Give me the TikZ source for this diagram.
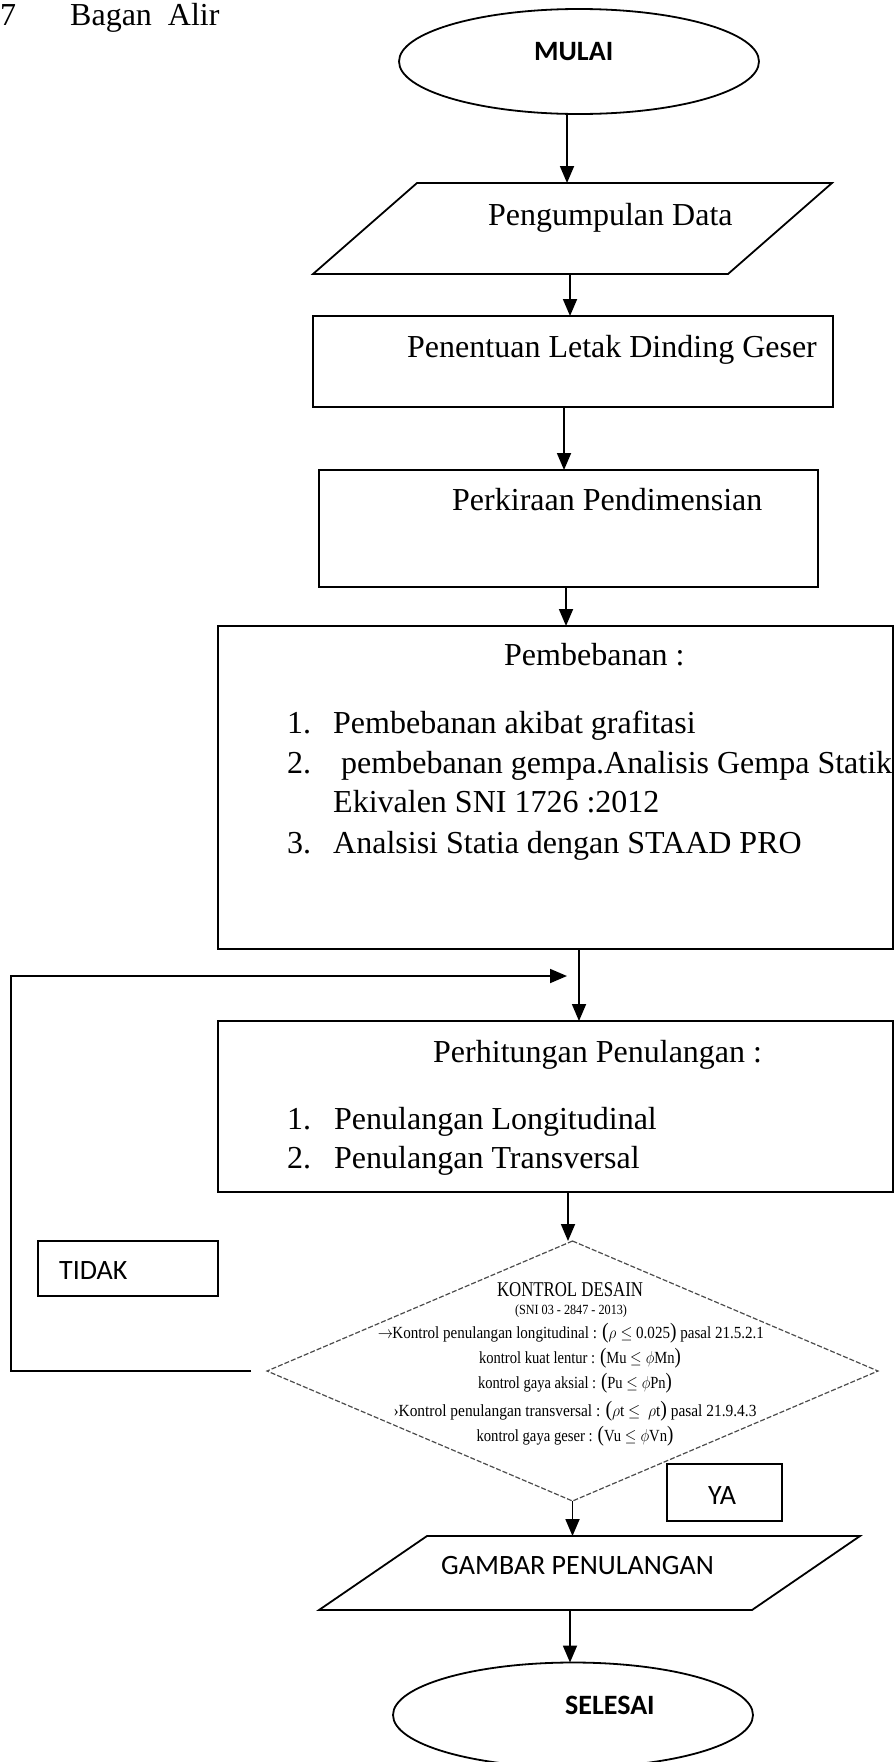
\documentclass[tikz,border=0pt]{standalone}
\usepackage{fontspec}
\usepackage{graphicx}
\setmainfont{Liberation Serif}
\newfontfamily\calfont{Carlito}
\usetikzlibrary{shapes.geometric,arrows.meta,calc}
\newcommand{\bpar}[1]{{\fontsize{22}{22}\selectfont(}#1{\fontsize{22}{22}\selectfont)}}
\newcommand{\fitw}[2]{\resizebox{#1}{\height}{#2}}
\begin{document}
\begin{tikzpicture}[x=1pt,y=-1pt,
  shp/.style={draw,line width=1.8pt,inner sep=0pt,outer sep=0pt},
  ghost/.style={inner sep=0pt,outer sep=0pt},
  ln/.style={line width=1.8pt,line join=miter},
  arr/.style={line width=1.8pt,-{Triangle[length=17pt,width=14pt]}},
  tnr/.style={inner sep=0pt,font=\fontsize{32}{38}\selectfont},
  cal/.style={inner sep=0pt,font=\calfont\fontsize{28}{34}\selectfont},
  calb/.style={inner sep=0pt,font=\calfont\bfseries\fontsize{28}{34}\selectfont},
  dtxt/.style={inner sep=0pt,font=\fontsize{17}{19}\selectfont},
  dline/.style={line width=1.2pt,draw=black!70,dash pattern=on 5pt off 2pt}
]
\useasboundingbox (0,0) rectangle (896,1762);
\fill[white] (0,0) rectangle (896,1762);

% title
\node[tnr,anchor=base west] (num) at (0,25) {7};
\node[tnr,anchor=base west] (title) at (70,25) {Bagan\ \ Alir};

% MULAI
\node[shp,ellipse,minimum width=360pt,minimum height=105pt] (mulai) at (579,61.5) {};
\node[calb,anchor=base west] (mulaiT) at (534,60) {MULAI};

% Pengumpulan Data (parallelogram)
\node[ghost,minimum width=519pt,minimum height=91pt] (pd) at (572.5,228.5) {};
\draw[ln] ([xshift=104pt]pd.north west) -- (pd.north east) -- ([xshift=-104pt]pd.south east) -- (pd.south west) -- cycle;
\node[tnr,anchor=base west] (pdT) at (488,225) {Pengumpulan Data};

% Penentuan
\node[shp,minimum width=520pt,minimum height=91pt] (pl) at (573,361.5) {};
\node[tnr,anchor=base west] (plT) at (407,357) {Penentuan Letak Dinding Geser};

% Perkiraan
\node[shp,minimum width=499pt,minimum height=117pt] (pk) at (568.5,528.5) {};
\node[tnr,anchor=base west] (pkT) at (452,510) {Perkiraan Pendimensian};

% Pembebanan
\node[shp,minimum width=675pt,minimum height=323pt] (pb) at (555.5,787.5) {};
\node[tnr,anchor=base west] (pbT) at (504,665) {Pembebanan :};
\node[tnr,anchor=base west] (pb1n) at (287,733) {1.};
\node[tnr,anchor=base west] (pb1) at (333,733) {Pembebanan akibat grafitasi};
\node[tnr,anchor=base west] (pb2n) at (287,773) {2.};
\node[tnr,anchor=base west] (pb2) at (341,773) {pembebanan gempa.Analisis Gempa Statik};
\node[tnr,anchor=base west] (pb2b) at (333,812) {Ekivalen SNI 1726 :2012};
\node[tnr,anchor=base west] (pb3n) at (287,853) {3.};
\node[tnr,anchor=base west] (pb3) at (333,853) {Analsisi Statia dengan STAAD PRO};

% Perhitungan
\node[shp,minimum width=675pt,minimum height=171pt] (ph) at (555.5,1106.5) {};
\node[tnr,anchor=base west] (phT) at (433,1062) {Perhitungan Penulangan :};
\node[tnr,anchor=base west] (ph1n) at (287,1129) {1.};
\node[tnr,anchor=base west] (ph1) at (334,1129) {Penulangan Longitudinal};
\node[tnr,anchor=base west] (ph2n) at (287,1168) {2.};
\node[tnr,anchor=base west] (ph2) at (334,1168) {Penulangan Transversal};

% TIDAK
\node[shp,minimum width=180pt,minimum height=55pt] (tidak) at (128,1268.5) {};
\node[cal,anchor=base west] (tidakT) at (59,1279) {TIDAK};

% Diamond
\node[ghost,minimum width=611pt,minimum height=260pt] (dk) at (572.5,1371) {};
\draw[dline] (dk.north) -- (dk.east) -- (dk.south) -- (dk.west) -- cycle;
\node[inner sep=0pt,font=\fontsize{21}{23}\selectfont,anchor=base] (d1) at (570,1296) {\fitw{146pt}{KONTROL DESAIN}};
\node[inner sep=0pt,font=\fontsize{14}{16}\selectfont,anchor=base] (d2) at (571,1314) {\fitw{112pt}{(SNI 03 - 2847 - 2013)}};
\node[dtxt,anchor=base] (d3) at (571,1338) {\fitw{386pt}{$\rightarrow$\kern-1pt Kontrol penulangan longitudinal : \bpar{$\rho\leq$ 0.025} pasal 21.5.2.1}};
\node[dtxt,anchor=base] (d4) at (580,1363) {\fitw{202pt}{kontrol kuat lentur : \bpar{Mu $\leq\phi$Mn}}};
\node[dtxt,anchor=base] (d5) at (575,1388) {\fitw{194pt}{kontrol gaya aksial : \bpar{Pu $\leq\phi$Pn}}};
\node[dtxt,anchor=base] (d6) at (575,1416) {\fitw{363pt}{›Kontrol penulangan transversal : \bpar{$\rho$t $\leq$\ \ $\rho$t} pasal 21.9.4.3}};
\node[dtxt,anchor=base] (d7) at (575,1441) {\fitw{197pt}{kontrol gaya geser : \bpar{Vu $\leq\phi$Vn}}};

% YA
\node[shp,minimum width=115pt,minimum height=57pt] (ya) at (724.5,1492.5) {};
\node[cal,anchor=base west] (yaT) at (708,1504) {YA};

% GAMBAR PENULANGAN (parallelogram)
\node[ghost,minimum width=541pt,minimum height=74pt] (gp) at (589.5,1573) {};
\draw[ln] ([xshift=108pt]gp.north west) -- (gp.north east) -- ([xshift=-108pt]gp.south east) -- (gp.south west) -- cycle;
\node[cal,anchor=base west] (gpT) at (441,1574) {GAMBAR PENULANGAN};

% SELESAI
\node[shp,ellipse,minimum width=360pt,minimum height=105pt] (sel) at (573,1715) {};
\node[calb,anchor=base west] (selT) at (565,1714) {SELESAI};

% connectors
\draw[arr] (mulai.south -| 567,0) -- (pd.north -| 567,0);
\draw[arr] (pd.south -| 570,0) -- (pl.north -| 570,0);
\draw[arr] (pl.south -| 564,0) -- (pk.north -| 564,0);
\draw[arr] (pk.south -| 566,0) -- (pb.north -| 566,0);
\draw[arr] (pb.south -| 579,0) -- (ph.north -| 579,0);
\draw[arr] (ph.south -| 568,0) -- (dk.north -| 568,0);
\draw[arr] (dk.south) -- (gp.north -| dk.south);
\draw[arr] (gp.south -| 570,0) -- (sel.north -| 570,0);
\draw[arr] ([xshift=-16pt]dk.west) -| (11,976) -- (567,976);
\end{tikzpicture}
\end{document}
